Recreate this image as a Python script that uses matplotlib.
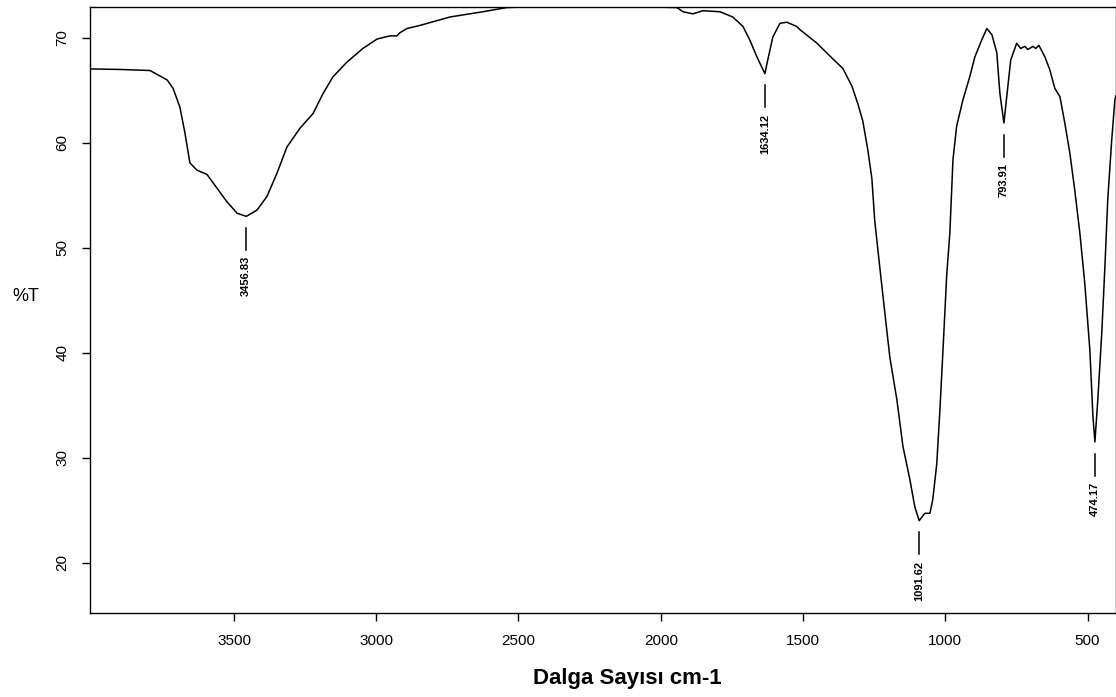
import numpy as np
import matplotlib.pyplot as plt

# IR spektrumu (dalga sayisi, %T)
wavenumber = [4000, 3900, 3795, 3735, 3714, 3690, 3672, 3655, 3630, 3595,
              3560, 3525, 3489, 3456.83, 3419, 3384, 3349, 3314, 3268, 3222,
              3187, 3152, 3103, 3047, 2997, 2952, 2927, 2917, 2892, 2846,
              2741, 2625, 2541, 2425, 2214, 2098, 1943, 1922, 1887, 1852,
              1792, 1747, 1711, 1687, 1662, 1634.12, 1624, 1606, 1581, 1557,
              1522, 1511, 1451, 1395, 1360, 1328, 1307, 1290, 1272, 1258,
              1248, 1230, 1212, 1195, 1170, 1149, 1125, 1107, 1091.62, 1072,
              1054, 1044, 1030, 1019, 1008, 995, 984, 973, 960, 938,
              914, 896, 872, 854, 836, 819, 808, 793.91, 784, 770,
              749, 735, 720, 710, 692, 682, 671, 650, 633, 615,
              597, 580, 562, 545, 527, 510, 492, 481, 474.17, 464,
              450, 439, 429, 415, 404, 400]
transmittance = [67.05, 67.0, 66.9, 66.0, 65.2, 63.4, 60.9, 58.1, 57.4, 57.0,
                 55.7, 54.4, 53.3, 53.0, 53.6, 54.9, 57.1, 59.6, 61.4, 62.8,
                 64.7, 66.3, 67.7, 69.0, 69.9, 70.2, 70.2, 70.5, 70.9, 71.2,
                 72.0, 72.5, 72.9, 73.0, 73.0, 73.0, 72.9, 72.5, 72.3, 72.6,
                 72.5, 72.0, 71.1, 69.8, 68.2, 66.6, 67.9, 70.1, 71.4, 71.5,
                 71.1, 70.8, 69.5, 68.0, 67.1, 65.4, 63.7, 62.1, 59.3, 56.6,
                 52.6, 48.1, 43.7, 39.6, 35.5, 31.1, 28.0, 25.3, 24.0, 24.7,
                 24.7, 26.0, 29.4, 34.5, 40.3, 47.4, 51.4, 58.4, 61.6, 64.1,
                 66.3, 68.2, 69.8, 70.9, 70.3, 68.6, 64.7, 61.9, 64.4, 67.9,
                 69.5, 69.0, 69.2, 68.9, 69.2, 69.0, 69.3, 68.2, 67.0, 65.2,
                 64.4, 61.9, 59.0, 55.5, 51.4, 46.7, 40.3, 33.9, 31.5, 35.5,
                 41.9, 48.2, 54.6, 60.3, 64.1, 64.5]

peaks = [3456.83, 1634.12, 1091.62, 793.91, 474.17]
peak_labels = ['3456.83', '1634.12', '1091.62', '793.91', '474.17']

xticks = [3500, 3000, 2500, 2000, 1500, 1000, 500]
yticks = [20, 30, 40, 50, 60, 70]

narrow = ['Liberation Sans Narrow', 'Liberation Sans', 'DejaVu Sans']

fig = plt.figure(figsize=(11.16, 6.97), dpi=100)
ax = fig.add_axes([90 / 1116, 84 / 697, 1026 / 1116, 606.5 / 697])

ax.plot(wavenumber, transmittance, color='black', linewidth=1.1)

ax.set_xlim(4006, 400)
ax.set_ylim(15.2, 73.0)

# pik etiketleri: kisa cizgi + dik yazi
for p, lab in zip(peaks, peak_labels):
    yp = transmittance[wavenumber.index(p)]
    ax.plot([p, p], [yp - 1.1, yp - 3.2], color='black', linewidth=1.1)
    ax.text(p, yp - 3.8, lab, rotation=90, ha='center', va='top',
            fontsize=8, fontweight='bold', family=narrow)

ax.set_xticks(xticks)
ax.set_yticks(yticks)
ax.tick_params(direction='out', length=6, width=1, pad=9, labelsize=11)
for t in ax.get_xticklabels():
    t.set_family(narrow)
for t in ax.get_yticklabels():
    t.set_family(narrow)
    t.set_rotation(90)
    t.set_va('center')

for s in ax.spines.values():
    s.set_linewidth(1.0)

ax.set_xlabel('Dalga Sayısı cm-1', fontsize=16, fontweight='bold',
              family=narrow)
ax.xaxis.set_label_coords(0.524, -0.09)
fig.text(12 / 1116, 1 - 297 / 697, '%T', fontsize=13, va='center',
         family=['Liberation Sans', 'DejaVu Sans'])

fig.savefig('out.png', dpi=100)
